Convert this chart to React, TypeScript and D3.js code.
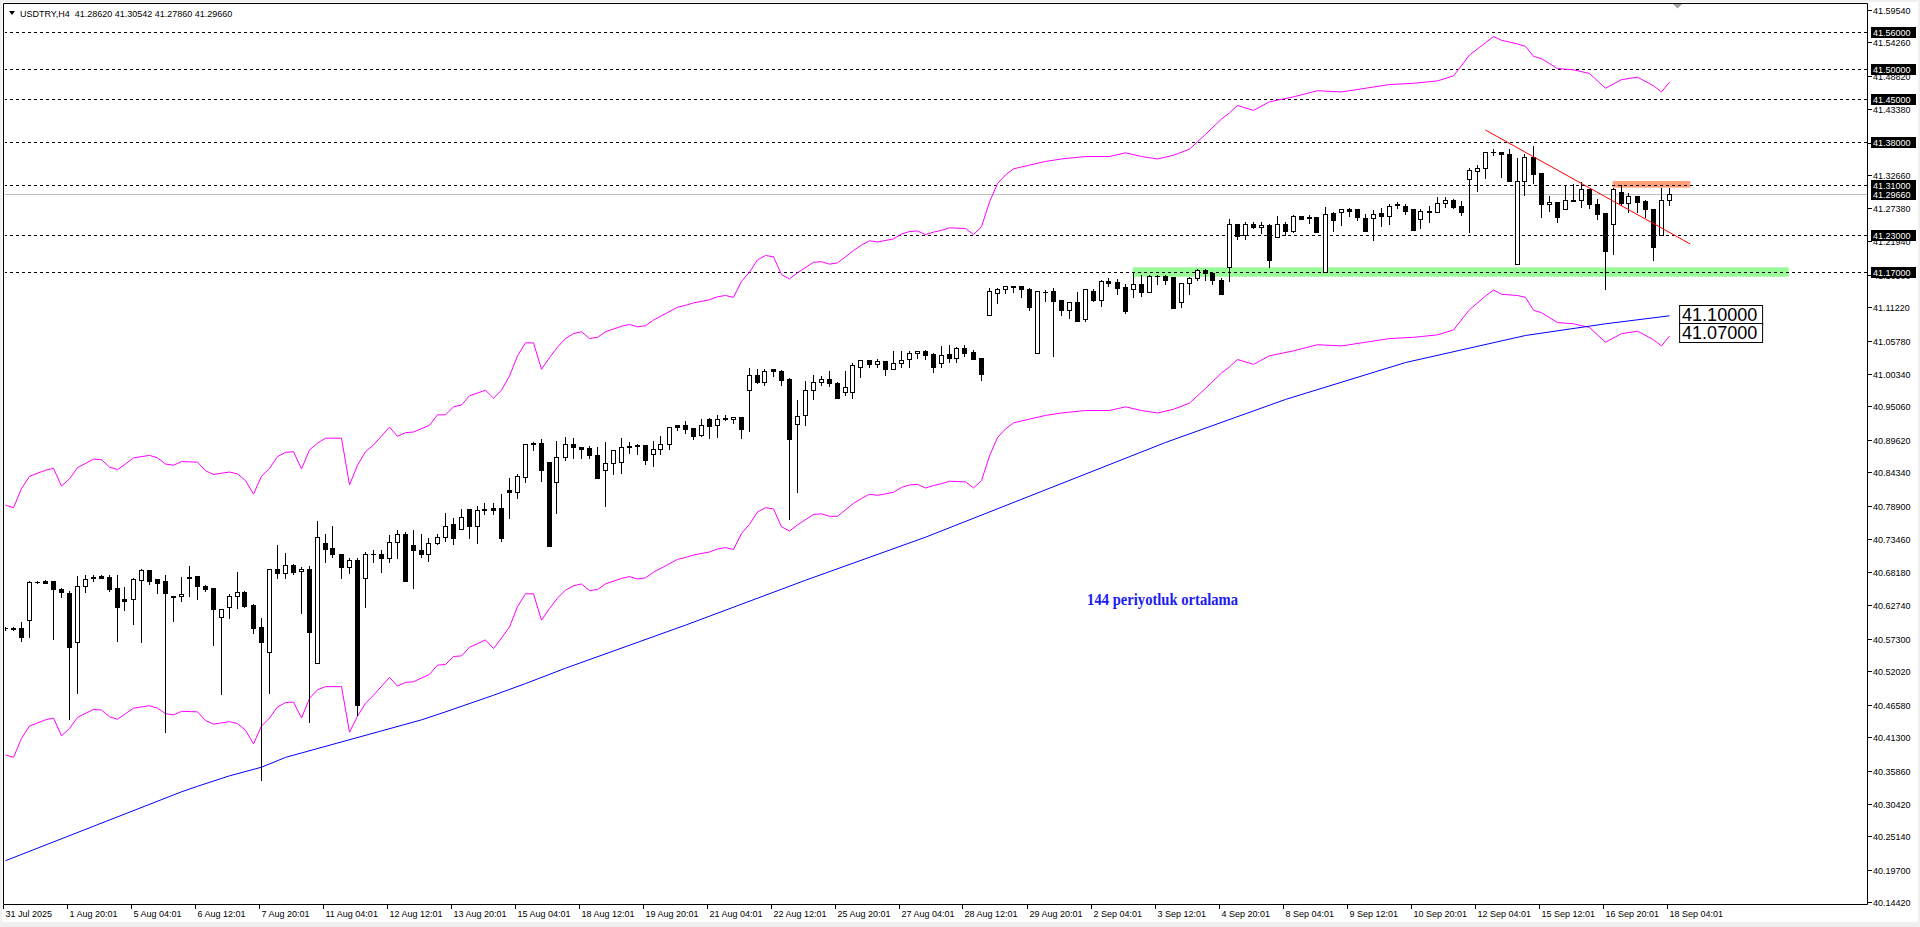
import React from "react";
import * as d3 from "d3";

// ---------- DATA ----------
// H4 candles [open, high, low, close], bar 0 = 31 Jul 2025
const candles: [number, number, number, number][] = [
  [40.590,40.592,40.587,40.590],[40.590,40.592,40.587,40.589],[40.590,40.600,40.570,40.576],[40.603,40.667,40.576,40.665],
  [40.665,40.666,40.664,40.665],[40.667,40.668,40.663,40.664],[40.667,40.667,40.573,40.653],[40.654,40.656,40.641,40.649],
  [40.647,40.651,40.442,40.559],[40.568,40.675,40.484,40.658],[40.658,40.676,40.649,40.670],[40.671,40.676,40.666,40.674],
  [40.675,40.677,40.671,40.672],[40.673,40.677,40.651,40.653],[40.655,40.676,40.570,40.625],[40.638,40.657,40.619,40.635],
  [40.638,40.672,40.597,40.670],[40.669,40.686,40.568,40.685],[40.685,40.685,40.662,40.667],[40.670,40.670,40.648,40.664],
  [40.667,40.677,40.422,40.647],[40.642,40.642,40.601,40.640],[40.642,40.673,40.635,40.645],[40.671,40.691,40.643,40.674],
  [40.675,40.675,40.638,40.658],[40.658,40.660,40.651,40.654],[40.655,40.655,40.563,40.621],[40.609,40.621,40.483,40.621],
  [40.624,40.646,40.606,40.642],[40.642,40.681,40.623,40.649],[40.649,40.651,40.625,40.626],[40.628,40.629,40.582,40.591],
  [40.592,40.606,40.344,40.568],[40.552,40.686,40.485,40.686],[40.687,40.725,40.672,40.679],[40.679,40.712,40.672,40.692],
  [40.693,40.694,40.678,40.682],[40.683,40.689,40.615,40.686],[40.687,40.691,40.438,40.584],[40.534,40.764,40.534,40.738],
  [40.729,40.743,40.698,40.719],[40.720,40.756,40.706,40.710],[40.711,40.711,40.672,40.690],[40.690,40.705,40.680,40.701],
  [40.701,40.705,40.449,40.465],[40.671,40.714,40.625,40.710],[40.710,40.717,40.697,40.710],[40.711,40.717,40.682,40.705],
  [40.705,40.742,40.698,40.731],[40.731,40.749,40.705,40.744],[40.744,40.747,40.667,40.667],[40.725,40.750,40.656,40.717],
  [40.718,40.744,40.706,40.711],[40.710,40.736,40.700,40.728],[40.728,40.743,40.727,40.738],[40.738,40.777,40.732,40.756],
  [40.759,40.769,40.727,40.736],[40.751,40.784,40.751,40.771],[40.784,40.784,40.737,40.757],[40.757,40.788,40.729,40.782],
  [40.784,40.793,40.776,40.782],[40.785,40.793,40.776,40.783],[40.785,40.808,40.732,40.736],[40.815,40.835,40.770,40.811],
  [40.811,40.841,40.802,40.837],[40.836,40.890,40.828,40.890],[40.891,40.893,40.880,40.889],[40.891,40.898,40.830,40.848],
  [40.860,40.860,40.723,40.723],[40.828,40.895,40.778,40.868],[40.868,40.901,40.864,40.890],[40.889,40.899,40.867,40.884],
  [40.885,40.885,40.866,40.882],[40.883,40.886,40.866,40.871],[40.872,40.885,40.835,40.835],[40.847,40.893,40.789,40.858],
  [40.858,40.879,40.840,40.879],[40.860,40.899,40.843,40.884],[40.884,40.892,40.875,40.887],[40.888,40.890,40.874,40.886],
  [40.888,40.888,40.857,40.864],[40.873,40.895,40.854,40.881],[40.881,40.903,40.873,40.890],[40.889,40.918,40.882,40.918],
  [40.920,40.920,40.913,40.918],[40.920,40.927,40.908,40.914],[40.916,40.916,40.897,40.903],[40.905,40.931,40.903,40.920],
  [40.930,40.932,40.900,40.919],[40.920,40.936,40.901,40.931],[40.932,40.936,40.929,40.930],[40.930,40.934,40.923,40.933],
  [40.933,40.933,40.900,40.914],[40.977,41.013,40.911,41.001],[41.002,41.011,40.988,40.990],[40.990,41.011,40.986,41.009],
  [41.011,41.011,41.000,41.009],[41.009,41.010,40.986,40.994],[40.995,40.997,40.768,40.898],[40.922,40.961,40.811,40.935],
  [40.936,40.992,40.921,40.977],[40.977,41.001,40.962,40.990],[40.990,41.000,40.986,40.996],[40.996,41.008,40.984,40.988],
  [40.989,40.990,40.965,40.965],[40.974,41.008,40.969,40.982],[40.974,41.021,40.964,41.018],[41.015,41.026,40.999,41.026],
  [41.026,41.026,41.014,41.020],[41.020,41.027,41.014,41.024],[41.024,41.024,41.002,41.012],[41.011,41.041,41.011,41.021],
  [41.022,41.041,41.014,41.026],[41.027,41.041,41.015,41.037],[41.037,41.040,41.030,41.040],[41.041,41.042,41.027,41.035],
  [41.036,41.037,41.007,41.015],[41.021,41.049,41.014,41.035],[41.036,41.050,41.023,41.030],[41.030,41.048,41.023,41.045],
  [41.045,41.050,41.032,41.038],[41.039,41.042,41.028,41.028],[41.029,41.029,40.994,41.004],[41.100,41.143,41.099,41.138],
  [41.135,41.143,41.119,41.141],[41.142,41.146,41.135,41.146],[41.146,41.146,41.136,41.145],[41.146,41.146,41.129,41.141],
  [41.142,41.143,41.108,41.113],[41.037,41.139,41.037,41.139],[41.137,41.140,41.122,41.136],[41.138,41.143,41.033,41.122],
  [41.123,41.124,41.100,41.108],[41.108,41.120,41.095,41.120],[41.120,41.137,41.090,41.090],[41.092,41.142,41.089,41.142],
  [41.139,41.141,41.122,41.124],[41.123,41.156,41.114,41.154],[41.155,41.160,41.147,41.152],[41.153,41.158,41.134,41.144],
  [41.145,41.150,41.103,41.106],[41.142,41.167,41.129,41.149],[41.149,41.165,41.131,41.137],[41.136,41.165,41.136,41.162],
  [41.162,41.164,41.149,41.162],[41.162,41.164,41.150,41.157],[41.161,41.161,41.110,41.110],[41.120,41.151,41.113,41.151],
  [41.151,41.161,41.134,41.159],[41.159,41.174,41.157,41.172],[41.172,41.174,41.157,41.167],[41.167,41.167,41.150,41.156],
  [41.156,41.159,41.134,41.134],[41.178,41.255,41.155,41.247],[41.247,41.248,41.223,41.228],[41.230,41.251,41.223,41.248],
  [41.248,41.251,41.241,41.242],[41.242,41.250,41.232,41.245],[41.245,41.248,41.178,41.189],[41.226,41.260,41.226,41.248],
  [41.248,41.250,41.230,41.236],[41.236,41.262,41.235,41.260],[41.260,41.261,41.255,41.255],[41.259,41.262,41.249,41.257],
  [41.258,41.258,41.234,41.234],[41.170,41.275,41.170,41.264],[41.265,41.266,41.236,41.253],[41.267,41.272,41.245,41.271],
  [41.271,41.273,41.261,41.269],[41.271,41.271,41.254,41.258],[41.257,41.264,41.236,41.236],[41.257,41.270,41.222,41.264],
  [41.265,41.274,41.244,41.261],[41.261,41.280,41.248,41.276],[41.280,41.283,41.273,41.278],[41.276,41.279,41.263,41.269],
  [41.272,41.272,41.238,41.238],[41.255,41.272,41.241,41.269],[41.266,41.276,41.250,41.269],[41.266,41.291,41.266,41.282],
  [41.282,41.291,41.275,41.286],[41.286,41.288,41.274,41.275],[41.276,41.284,41.262,41.267],[41.321,41.338,41.235,41.335],
  [41.334,41.344,41.301,41.339],[41.339,41.365,41.322,41.365],[41.365,41.369,41.359,41.365],[41.365,41.365,41.324,41.361],
  [41.361,41.370,41.318,41.318],[41.183,41.354,41.183,41.318],[41.318,41.361,41.295,41.357],[41.357,41.374,41.314,41.329],
  [41.330,41.331,41.259,41.279],[41.279,41.292,41.269,41.283],[41.283,41.283,41.251,41.258],[41.271,41.310,41.271,41.287],
  [41.287,41.313,41.284,41.285],[41.286,41.315,41.275,41.304],[41.304,41.304,41.274,41.279],[41.279,41.288,41.256,41.264],
  [41.265,41.265,41.142,41.204],[41.247,41.306,41.199,41.304],[41.299,41.310,41.278,41.282],[41.281,41.297,41.266,41.292],
  [41.292,41.292,41.267,41.283],[41.284,41.286,41.259,41.271],[41.271,41.271,41.189,41.210],[41.230,41.305,41.230,41.286],
  [41.2862,41.30542,41.2786,41.2966],
];

const timeLabels = [
  "31 Jul 2025","1 Aug 20:01","5 Aug 04:01","6 Aug 12:01","7 Aug 20:01","11 Aug 04:01","12 Aug 12:01",
  "13 Aug 20:01","15 Aug 04:01","18 Aug 12:01","19 Aug 20:01","21 Aug 04:01","22 Aug 12:01","25 Aug 20:01",
  "27 Aug 04:01","28 Aug 12:01","29 Aug 20:01","2 Sep 04:01","3 Sep 12:01","4 Sep 20:01","8 Sep 04:01",
  "9 Sep 12:01","10 Sep 20:01","12 Sep 04:01","15 Sep 12:01","16 Sep 20:01","18 Sep 04:01",
];
const labelEvery = 8;

const priceTicks = [
  41.5954,41.5426,41.4882,41.4338,41.3794,41.3266,41.2738,41.2194,41.165,41.1122,41.0578,41.0034,
  40.9506,40.8962,40.8434,40.789,40.7346,40.6818,40.6274,40.573,40.5202,40.4658,40.413,40.3586,
  40.3042,40.2514,40.197,40.1442,
];

const levels = [41.56, 41.5, 41.45, 41.38, 41.31, 41.23, 41.17];
const bidPrice = 41.2966;

// Envelope bands
const bandBars = [0,1,2,3,5,6,7,8,9,11,12,13,14,15,16,18,19,20,21,22,24,25,26,28,29,30,31,32,33,34,35,36,37,38,39,40,42,43,44,45,46,48,49,50,51,53,54,55,56,57,58,60,61,62,63,64,65,66,67,68,69,70,71,72,73,74,75,77,78,79,80,81,84,85,86,88,89,90,91,92,93,94,95,96,97,98,99,101,102,103,104,106,107,108,109,111,112,113,114,115,116,117,118,120,121,122,123,124,125,126,128,130,132,135,138,140,142,144,146,148,150,152,153,154,156,158,161,164,167,170,173,176,179,181,183,185,186,187,189,190,191,192,194,196,198,200,202,204,206,207,208];
const lowerBand = [40.384,40.380,40.411,40.431,40.441,40.444,40.415,40.427,40.445,40.458,40.457,40.446,40.442,40.451,40.460,40.464,40.460,40.451,40.449,40.455,40.454,40.440,40.434,40.438,40.435,40.424,40.402,40.431,40.444,40.462,40.469,40.470,40.444,40.476,40.490,40.495,40.495,40.421,40.447,40.468,40.481,40.510,40.496,40.502,40.503,40.515,40.530,40.531,40.544,40.545,40.559,40.571,40.557,40.574,40.592,40.625,40.646,40.646,40.603,40.622,40.639,40.652,40.659,40.662,40.651,40.653,40.662,40.671,40.674,40.670,40.672,40.681,40.702,40.705,40.709,40.714,40.719,40.721,40.718,40.744,40.759,40.779,40.786,40.784,40.755,40.748,40.758,40.775,40.776,40.772,40.772,40.793,40.801,40.808,40.806,40.811,40.819,40.823,40.824,40.818,40.822,40.825,40.829,40.828,40.818,40.830,40.870,40.900,40.914,40.924,40.930,40.936,40.940,40.944,40.944,40.950,40.944,40.940,40.946,40.956,40.980,41.005,41.015,41.027,41.019,41.033,41.041,41.051,41.049,41.055,41.061,41.063,41.067,41.075,41.108,41.130,41.140,41.133,41.131,41.128,41.107,41.103,41.087,41.085,41.079,41.055,41.069,41.073,41.059,41.049,41.065];
const upperBand = [40.790,40.786,40.817,40.837,40.847,40.850,40.821,40.833,40.851,40.865,40.864,40.852,40.848,40.857,40.867,40.871,40.867,40.857,40.855,40.861,40.860,40.846,40.840,40.844,40.841,40.830,40.808,40.837,40.850,40.869,40.876,40.877,40.849,40.880,40.891,40.899,40.899,40.823,40.855,40.877,40.888,40.917,40.902,40.908,40.909,40.920,40.937,40.937,40.950,40.953,40.968,40.977,40.964,40.977,41.000,41.033,41.054,41.054,41.011,41.030,41.047,41.061,41.069,41.072,41.061,41.063,41.072,41.081,41.084,41.080,41.082,41.091,41.112,41.115,41.119,41.124,41.129,41.131,41.128,41.154,41.169,41.189,41.196,41.194,41.165,41.158,41.168,41.185,41.186,41.182,41.184,41.204,41.213,41.220,41.218,41.223,41.231,41.235,41.236,41.230,41.234,41.237,41.241,41.240,41.230,41.243,41.283,41.313,41.327,41.337,41.343,41.349,41.353,41.357,41.357,41.363,41.357,41.353,41.359,41.369,41.393,41.418,41.428,41.440,41.432,41.446,41.454,41.464,41.462,41.468,41.474,41.476,41.480,41.488,41.522,41.542,41.552,41.546,41.540,41.536,41.520,41.516,41.500,41.498,41.492,41.468,41.482,41.486,41.472,41.462,41.478];

// 144-period moving average
const maBars = [0,22,24,28,32,35,52,55,61,65,70,85,100,115,130,145,160,175,190,200,208];
const maValues = [40.212,40.324,40.333,40.350,40.364,40.380,40.441,40.454,40.481,40.500,40.525,40.595,40.668,40.738,40.815,40.892,40.962,41.022,41.066,41.085,41.098];

// drawn objects
const trendBars = [185, 210.6];
const trendPrices = [41.4, 41.2147];
const greenZoneBars = [140.9, 222.9];
const greenZonePrices = [41.1768, 41.1615];
const orangeZoneBars = [200.9, 210.6];
const orangeZonePrices = [41.3172, 41.3063];
const priceNotes = [
  { text: "41.10000", bar: 209.2, price: 41.1 },
  { text: "41.07000", bar: 209.2, price: 41.07 },
];
const maNote = { text: "144 periyotluk ortalama", bar: 135.2, price: 40.636 };
const header = "USDTRY,H4  41.28620 41.30542 41.27860 41.29660";

// ---------- LAYOUT ----------
const W = 1920, H = 927;
const L = 4, T = 4, R = 1867, B = 904;
const FONT = "'Liberation Sans', Arial, sans-serif";

export default function App() {
  const x = d3.scaleLinear().domain([0, 208]).range([5.5, 5.5 + 8 * 208]);
  const y = d3.scaleLinear().domain([40.1442, 41.5954]).range([902.4, 9.9]);

  const bandLine = (vals: number[]) =>
    d3.line<number>().x((_, i) => x(bandBars[i])).y((v) => y(v))(vals) || "";
  const maLine =
    d3.line<number>().x((_, i) => x(maBars[i])).y((v) => y(v))(maValues) || "";

  return (
    <svg width={W} height={H} style={{ position: "absolute", left: 0, top: 0, display: "block" }}
      xmlns="http://www.w3.org/2000/svg">
      <rect x={0} y={0} width={W} height={H} fill="#f0f0f0" />
      <rect x={2} y={2} width={1916} height={920} fill="#ffffff" />
      <defs>
        <clipPath id="plot">
          <rect x={L + 1} y={T + 1} width={R - L - 1} height={B - T - 1} />
        </clipPath>
      </defs>

      <g clipPath="url(#plot)">
        {/* zones */}
        <rect x={x(greenZoneBars[0])} y={y(greenZonePrices[0])}
          width={x(greenZoneBars[1]) - x(greenZoneBars[0])}
          height={y(greenZonePrices[1]) - y(greenZonePrices[0])} fill="#98fb98" />
        <rect x={x(orangeZoneBars[0])} y={y(orangeZonePrices[0])}
          width={x(orangeZoneBars[1]) - x(orangeZoneBars[0])}
          height={y(orangeZonePrices[1]) - y(orangeZonePrices[0])} fill="#ffa07a" />

        {/* bid line */}
        <line x1={L} x2={R} y1={Math.round(y(bidPrice)) + 0.5} y2={Math.round(y(bidPrice)) + 0.5}
          stroke="#c0c0c0" strokeWidth={1} />
        {/* levels */}
        {levels.map((v) => {
          const yy = Math.round(y(v)) + 0.5;
          return <line key={v} x1={L} x2={R} y1={yy} y2={yy} stroke="#000" strokeWidth={1} strokeDasharray="3,3" />;
        })}

        {/* envelopes */}
        <path d={bandLine(upperBand)} fill="none" stroke="#ff00ff" strokeWidth={1} />
        <path d={bandLine(lowerBand)} fill="none" stroke="#ff00ff" strokeWidth={1} />
        {/* MA */}
        <path d={maLine} fill="none" stroke="#0000ff" strokeWidth={1} />

        {/* candles */}
        {candles.map(([o, h, l, c], i) => {
          const cx = Math.round(x(i)) - 0.5;
          const yt = Math.round(y(Math.max(o, c)));
          const yb = Math.round(y(Math.min(o, c)));
          const bull = c >= o;
          const wick = (
            <line x1={cx} x2={cx} y1={Math.round(y(h))} y2={Math.round(y(l)) + 1} stroke="#000" strokeWidth={1} />
          );
          if (yb - yt < 1) {
            return (
              <g key={i}>
                {wick}
                <line x1={cx - 2.5} x2={cx + 2.5} y1={yt + 0.5} y2={yt + 0.5} stroke="#000" strokeWidth={1} />
              </g>
            );
          }
          return (
            <g key={i}>
              {wick}
              {bull ? (
                <rect x={cx - 2} y={yt + 0.5} width={4} height={yb - yt} fill="#fff" stroke="#000" strokeWidth={1} />
              ) : (
                <rect x={cx - 2.5} y={yt} width={5} height={yb - yt + 1} fill="#000" />
              )}
            </g>
          );
        })}

        {/* trend line */}
        <line x1={x(trendBars[0])} y1={y(trendPrices[0])} x2={x(trendBars[1])} y2={y(trendPrices[1])}
          stroke="#ff0000" strokeWidth={1} />

        {/* text notes */}
        <text x={x(maNote.bar)} y={y(maNote.price)} dominantBaseline="central"
          fontFamily="'Liberation Serif', serif" fontWeight="bold" fontSize={16} fill="#1c1cf0"
          textLength={151} lengthAdjust="spacingAndGlyphs">
          {maNote.text}
        </text>
        {priceNotes.map((n) => (
          <g key={n.text}>
            <rect x={x(n.bar) + 0.5} y={Math.round(y(n.price)) - 9.5} width={83} height={19}
              fill="#fff" stroke="#000" strokeWidth={1} />
            <text x={x(n.bar) + 3} y={y(n.price)} dominantBaseline="central"
              fontFamily={FONT} fontSize={18} fill="#000">{n.text}</text>
          </g>
        ))}
      </g>

      {/* frame */}
      <line x1={L - 0.5} x2={R + 0.5} y1={T - 0.5} y2={T - 0.5} stroke="#000" />
      <line x1={L - 0.5} x2={L - 0.5} y1={T - 0.5} y2={B + 0.5} stroke="#000" />
      <line x1={R + 0.5} x2={R + 0.5} y1={T - 0.5} y2={B + 0.5} stroke="#000" />
      <line x1={L - 0.5} x2={R + 0.5} y1={B + 0.5} y2={B + 0.5} stroke="#000" />

      {/* shift marker */}
      <polygon points={`${1673},${4} ${1682},${4} ${1677.5},${8.5}`} fill="#a0a0a0" />

      {/* header */}
      <polygon points="9,11 15,11 12,15" fill="#000" />
      <text x={20} y={16.5} fontFamily={FONT} fontSize={9} fill="#000" style={{ whiteSpace: "pre" }}>
        {header}
      </text>

      {/* price axis */}
      {priceTicks.map((v) => {
        const yy = Math.round(y(v)) + 0.5;
        return (
          <g key={v}>
            <line x1={R + 1} x2={R + 5} y1={yy} y2={yy} stroke="#000" />
            <text x={1873} y={yy} dominantBaseline="central" fontFamily={FONT} fontSize={9} fill="#000">
              {v.toFixed(5)}
            </text>
          </g>
        );
      })}
      {[...levels, bidPrice].map((v) => {
        const yy = Math.round(y(v));
        return (
          <g key={"b" + v}>
            <rect x={1871} y={yy - 5} width={45} height={11} fill="#000" />
            <text x={1873} y={yy + 0.5} dominantBaseline="central" fontFamily={FONT} fontSize={9} fill="#fff">
              {v.toFixed(5)}
            </text>
          </g>
        );
      })}

      {/* time axis */}
      {timeLabels.map((t, k) => {
        const xx = Math.round(x(k * labelEvery)) - 0.5;
        return (
          <g key={t}>
            <line x1={xx - 2} x2={xx - 2} y1={B + 1} y2={B + 5} stroke="#000" />
            <text x={xx} y={917} fontFamily={FONT} fontSize={9} fill="#000">{t}</text>
          </g>
        );
      })}
    </svg>
  );
}
